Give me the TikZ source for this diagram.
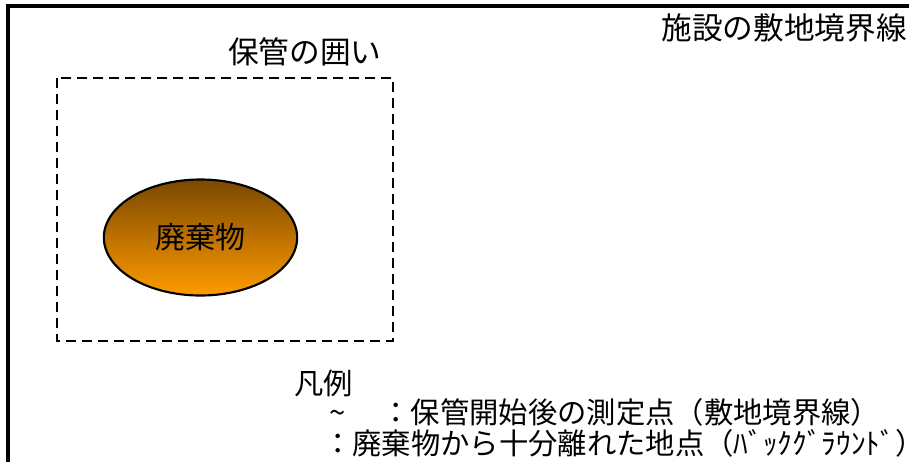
\documentclass[tikz,border=0pt]{standalone}
\usepackage{fontspec}
\setmainfont{Noto Sans CJK JP}
\usetikzlibrary{shapes.geometric}

\tikzset{
  label text/.style={inner sep=0pt, font=\fontsize{23pt}{26pt}\selectfont},
  legend text/.style={inner sep=0pt, anchor=west, font=\fontsize{22pt}{25pt}\selectfont},
  fence/.style={draw, line width=2pt, dash pattern=on 7.5pt off 4.5pt},
  waste/.style={ellipse, draw, line width=1.6pt, minimum width=145pt, minimum height=87pt,
    top color=wastetop, bottom color=wastebottom, inner sep=0pt,
    font=\fontsize{22.5pt}{25pt}\selectfont}
}
\definecolor{wastetop}{RGB}{122,72,0}
\definecolor{wastebottom}{RGB}{255,155,0}

\begin{document}
\begin{tikzpicture}[x=0.75pt,y=-0.75pt]
  \useasboundingbox (0,0) rectangle (909,461);
  \fill[white] (0,0) rectangle (909,461);
  % site boundary, runs past the right and bottom edges
  \draw[line width=2.4pt] (8,475)--(8,6)--(925,6);
  \node[label text, anchor=east] (boundary) at (907,28) {施設の敷地境界線};

  % storage enclosure
  \draw[fence] (57,78) rectangle (393,341);
  \node[label text, anchor=west] (fencelabel) at (228,52) {保管の囲い};

  \node[waste] (waste) at (200.5,237.5) {廃棄物};

  % legend
  \node[legend text] (legend) at (294,383) {凡例};
  \node[legend text] (item1) at (329,412) {\textasciitilde\hspace{27pt}：保管開始後の測定点（敷地境界線）};
  \node[legend text] (item2) at (323,443) {：廃棄物から十分離れた地点（ﾊﾞｯｸｸﾞﾗｳﾝﾄﾞ）};
\end{tikzpicture}
\end{document}
